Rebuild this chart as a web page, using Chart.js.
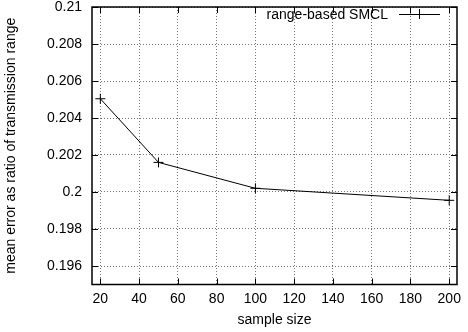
<!DOCTYPE html>
<html>
<head>
<meta charset="utf-8">
<script src="https://cdn.jsdelivr.net/npm/chart.js@4/dist/chart.umd.min.js"></script>
<style>
html,body{margin:0;padding:0;background:#fff;}
#wrap{width:468px;height:332px;}
</style>
</head>
<body>
<div id="wrap"><canvas id="c" width="468" height="332"></canvas></div>
<script>
const sampleSizes = [20, 50, 100, 200];
const meanError = [0.20504, 0.2016, 0.2002, 0.19955];
const xTicks = [20, 40, 60, 80, 100, 120, 140, 160, 180, 200];
const yTicks = [0.196, 0.198, 0.2, 0.202, 0.204, 0.206, 0.208, 0.21];
const yTickLabels = ['0.196', '0.198', '0.2', '0.202', '0.204', '0.206', '0.208', '0.21'];
const seriesLabel = 'range-based SMCL';
const xTitle = 'sample size';
const yTitle = 'mean error as ratio of transmission range';

const FONT = "'Liberation Sans', Arial, Helvetica, sans-serif";

const framePlugin = {
  id: 'frame',
  afterDatasetsDraw(chart) {
    const {ctx, chartArea: a} = chart;
    const xs = chart.scales.x, ys = chart.scales.y;
    const L = 6;
    ctx.save();
    ctx.strokeStyle = '#000';
    ctx.lineWidth = 1;
    ctx.beginPath();
    xTicks.forEach(v => {
      const px = Math.round(xs.getPixelForValue(v)) + 0.5;
      ctx.moveTo(px, a.bottom); ctx.lineTo(px, a.bottom - L);
      ctx.moveTo(px, a.top); ctx.lineTo(px, a.top + L);
    });
    yTicks.forEach(v => {
      const py = Math.round(ys.getPixelForValue(v)) + 0.5;
      ctx.moveTo(a.left, py); ctx.lineTo(a.left + L, py);
      ctx.moveTo(a.right, py); ctx.lineTo(a.right - L, py);
    });
    ctx.stroke();
    ctx.lineWidth = 1.5;
    ctx.strokeRect(a.left, a.top, a.right - a.left, a.bottom - a.top);

    // legend (gnuplot style, inside top-right)
    const ly = a.top + 7;
    ctx.font = '14px ' + FONT;
    ctx.fillStyle = '#000';
    ctx.textAlign = 'right';
    ctx.textBaseline = 'middle';
    ctx.fillText(chart.data.datasets[0].label, a.right - 69, ly + 1);
    ctx.lineWidth = 1;
    ctx.beginPath();
    ctx.moveTo(a.right - 58, ly + 0.5); ctx.lineTo(a.right - 17, ly + 0.5);
    const cx = a.right - 38;
    ctx.moveTo(cx + 0.5, ly - 5); ctx.lineTo(cx + 0.5, ly + 5);
    ctx.moveTo(cx - 5, ly + 0.5); ctx.lineTo(cx + 5, ly + 0.5);
    ctx.stroke();
    ctx.restore();
  }
};

new Chart(document.getElementById('c'), {
  type: 'line',
  data: {
    datasets: [{
      label: seriesLabel,
      data: sampleSizes.map((x, i) => ({x: x, y: meanError[i]})),
      borderColor: '#000',
      backgroundColor: '#000',
      borderWidth: 1,
      pointStyle: 'cross',
      pointRadius: 5,
      pointBorderWidth: 1,
      pointBorderColor: '#000',
      tension: 0,
      fill: false
    }]
  },
  options: {
    responsive: false,
    animation: false,
    devicePixelRatio: 1,
    layout: {padding: {top: 7, right: 11, left: 0, bottom: 0}},
    plugins: {legend: {display: false}, tooltip: {enabled: false}},
    scales: {
      x: {
        type: 'linear',
        min: 15.7,
        max: 204,
        afterBuildTicks: s => { s.ticks = xTicks.map(v => ({value: v})); },
        afterFit: s => { s.height = 47.5; s.paddingLeft = 0; s.paddingRight = 0; },
        ticks: {
          color: '#000',
          font: {family: FONT, size: 14},
          padding: 6,
          maxRotation: 0,
          autoSkip: false
        },
        grid: {color: '#777', lineWidth: 1, drawTicks: false},
        border: {display: false, dash: [1, 2]},
        title: {display: true, text: xTitle, color: '#000', font: {family: FONT, size: 14}, padding: {top: 0, bottom: 3}}
      },
      y: {
        type: 'linear',
        min: 0.195,
        max: 0.21,
        afterBuildTicks: s => { s.ticks = yTicks.map(v => ({value: v})); },
        afterFit: s => { s.width = 92; s.paddingTop = 0; s.paddingBottom = 0; },
        ticks: {
          color: '#000',
          font: {family: FONT, size: 14},
          padding: 10,
          autoSkip: false,
          callback: (v, i) => yTickLabels[i]
        },
        grid: {color: '#777', lineWidth: 1, drawTicks: false},
        border: {display: false, dash: [1, 2]},
        title: {display: true, text: yTitle, color: '#000', font: {family: FONT, size: 14}, padding: {top: 3, bottom: 0}}
      }
    }
  },
  plugins: [framePlugin]
});
</script>
</body>
</html>
